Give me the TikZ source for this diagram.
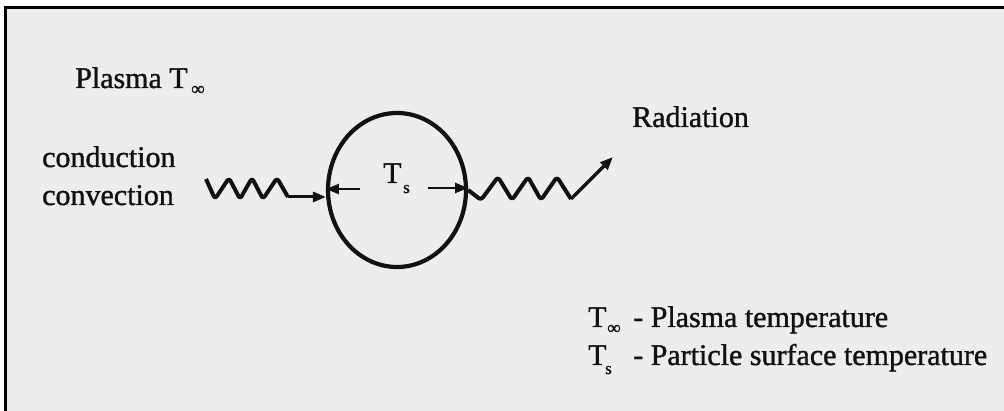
\documentclass[tikz,border=0pt]{standalone}
\usepackage{fontspec}
\setmainfont{Liberation Serif}
\newfontfamily\hv{Liberation Serif}[FakeBold=1.2]
\usetikzlibrary{arrows.meta,shapes.geometric}
\definecolor{bgcol}{HTML}{EDEDED}
\definecolor{ink}{HTML}{111111}
\begin{document}
\begin{tikzpicture}[x=1pt,y=-1pt,
  txt/.style={font=\hv\fontsize{30}{36}\selectfont, text=ink, inner sep=0, anchor=base west},
  sub/.style={font=\hv\fontsize{17}{19}\selectfont, text=ink, inner sep=0, anchor=base west},
  infsub/.style={font=\hv\fontsize{19}{21}\selectfont, text=ink, inner sep=0, anchor=base west},
  wave/.style={draw=ink, line width=4pt, rounded corners=3pt, line join=round},
  ring/.style={draw=ink, ellipse, line width=4.2pt, minimum width=138pt, minimum height=154pt, inner sep=0},
  tipline/.style={draw=ink, line width=2.2pt, -{Triangle[length=13pt,width=10pt]}},
  frame/.style={draw=black, line width=3pt}]
\useasboundingbox (0,0) rectangle (1004,411);
\fill[white] (0,0) rectangle (1004,411);
\fill[bgcol] (5,8) rectangle (1004,411);
\draw[frame] (5,411) -- (5,8) -- (1004,8);

% particle
\node[ring] (p) at (397,190) {};
\node[txt] (ts) at (383,183) {T};
\node[sub] (tss) at (403,193) {s};

% inner arrows
\coordinate (li) at (360,189);
\coordinate (ri) at (428,188);
\draw[tipline] (li) -- (p.west |- li);
\draw[tipline] (ri) -- (p.east |- ri);

% incoming wave (conduction / convection)
\coordinate (lw) at (206,179);
\coordinate (lwend) at (288,197);
\draw[wave] (lw) -- (215,199) -- (229,178) -- (240,199) -- (252,178) -- (263,199) -- (277,178) -- (lwend);
\draw[tipline, line width=3pt] (lwend) -- (p.west |- lwend);

% outgoing wave (radiation)
\coordinate (rw) at (571,199);
\coordinate (rtip) at (613,157);
\draw[wave] (p.east) -- (481,200) -- (498,177) -- (512,200) -- (528,177) -- (541,200) -- (557,177) -- (rw);
\draw[tipline, line width=3.4pt] (rw) -- (rtip);

% labels
\node[txt] (plasma) at (75,88) {Plasma T};
\node[infsub] (pinf) at (191,95) {∞};
\node[txt] (cond) at (42,167) {conduction};
\node[txt] (conv) at (42,205) {convection};
\node[txt] (rad) at (632,127) {Radiation};

% legend
\node[txt] (l1t) at (588,327) {T};
\node[infsub] (l1s) at (607,334) {∞};
\node[txt] (l1) at (633,327) {- Plasma temperature};
\node[txt] (l2t) at (588,365) {T};
\node[sub] (l2s) at (605,374) {s};
\node[txt] (l2) at (633,365) {- Particle surface temperature};
\end{tikzpicture}
\end{document}
